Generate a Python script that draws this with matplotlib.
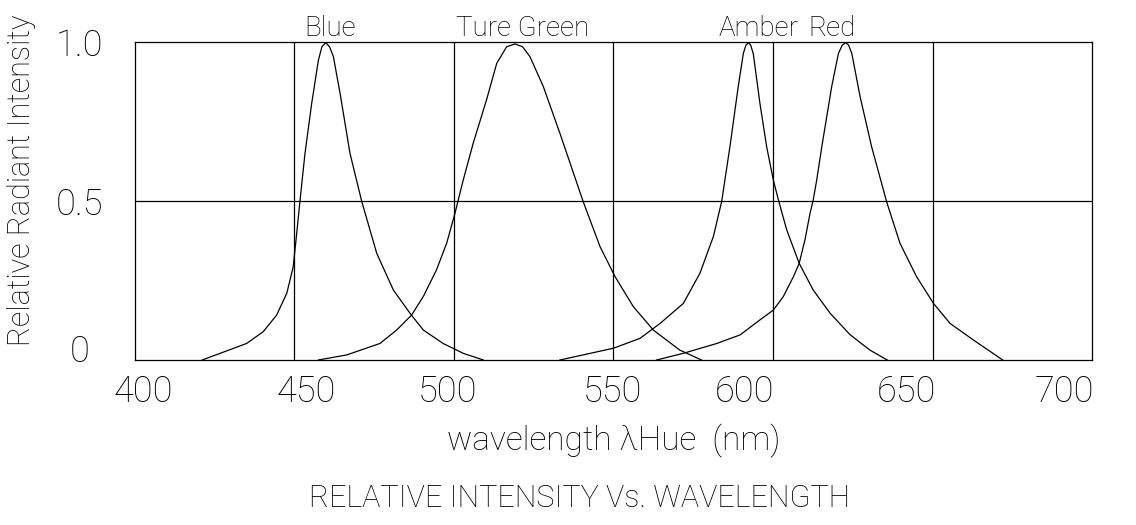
import numpy as np
import matplotlib
matplotlib.use("Agg")
import matplotlib.pyplot as plt
import matplotlib.transforms as mtrans

# spectra (wavelength nm, relative intensity)
blue_x = [421.1, 435.0, 440.2, 444.4, 447.6, 449.6, 450.7, 451.7, 453.3, 455.4, 457.5, 458.6, 459.8,
          461.0, 462.2, 464.3, 467.4, 471.1, 475.8, 481.0, 486.2, 490.4, 496.6, 502.9, 509.2]
blue_y = [0.0, 0.052, 0.089, 0.141, 0.21, 0.293, 0.398, 0.498, 0.65, 0.807, 0.943, 0.985, 0.998,
          0.985, 0.954, 0.838, 0.65, 0.498, 0.335, 0.22, 0.147, 0.094, 0.052, 0.021, 0.0]

green_x = [457.5, 466.4, 476.8, 482.0, 486.7, 490.4, 494.5, 497.7, 500.3, 502.9, 506.0, 510.2,
           513.4, 516.5, 519.1, 521.5, 523.8, 528.0, 533.2, 540.5, 545.8, 550.5, 556.2, 562.5,
           570.8, 577.6]
green_y = [0.0, 0.016, 0.052, 0.094, 0.141, 0.2, 0.283, 0.367, 0.461, 0.566, 0.681, 0.818,
           0.933, 0.985, 0.994, 0.985, 0.954, 0.86, 0.713, 0.498, 0.356, 0.262, 0.168, 0.094,
           0.031, 0.0]

amber_x = [533.2, 550.0, 558.3, 564.6, 571.9, 577.1, 581.3, 583.9, 586.5, 589.1, 590.7, 591.5,
           592.3, 593.0, 593.8, 595.9, 598.0, 600.1, 601.7, 604.3, 608.2, 612.6, 617.9, 624.1,
           627.3, 630.4, 635.8]
amber_y = [0.0, 0.037, 0.068, 0.115, 0.178, 0.273, 0.388, 0.498, 0.671, 0.86, 0.964, 0.99,
           0.998, 0.99, 0.964, 0.807, 0.671, 0.566, 0.503, 0.409, 0.304, 0.22, 0.147, 0.08,
           0.055, 0.031, 0.0]

red_x = [563.5, 571.9, 582.4, 589.7, 595.9, 600.1, 603.2, 606.4, 608.2, 610.0, 611.6, 612.6,
         613.7, 615.3, 618.4, 620.5, 621.7, 622.8, 623.7, 624.7, 627.3, 630.9, 635.6, 639.8,
         645.0, 650.3, 655.5, 662.8, 672.0]
red_y = [0.0, 0.021, 0.052, 0.079, 0.126, 0.157, 0.199, 0.262, 0.304, 0.377, 0.461, 0.503,
         0.566, 0.671, 0.86, 0.964, 0.99, 0.998, 0.99, 0.964, 0.828, 0.671, 0.498, 0.367,
         0.262, 0.178, 0.115, 0.063, 0.0]

names = ["Blue", "Ture Green", "Amber", "Red"]
name_pos = [461.0, 521.5, 595.4, 618.5]
xs = [blue_x, green_x, amber_x, red_x]
ys = [blue_y, green_y, amber_y, red_y]

xticks = [400, 450, 500, 550, 600, 650, 700]
yticks = [0, 0.5, 1.0]
ytick_labels = ["0", "0.5", "1.0"]

plt.rcParams['font.family'] = ['Roboto', 'DejaVu Sans']
fw = 'light'

fig = plt.figure(figsize=(11.36, 5.25), dpi=100)
ax = fig.add_axes([0.1188, 0.3143, 0.8425, 0.6057])

for x, y in zip(xs, ys):
    ax.plot(x, y, color='black', lw=0.9)

for xv in xticks[1:-1]:
    ax.axvline(xv, color='black', lw=0.9)
ax.axhline(0.5, color='black', lw=0.9)

ax.set_xlim(400, 700)
ax.set_ylim(0, 1.0)
for s in ax.spines.values():
    s.set_linewidth(0.9)

ax.set_xticks(xticks)
ax.set_xticklabels([str(v) for v in xticks], fontsize=26, fontweight=fw)
ax.set_yticks(yticks)
ax.set_yticklabels(ytick_labels, fontsize=26, fontweight=fw, ha='center')
ax.tick_params(axis='x', length=0, pad=10)
ax.tick_params(axis='y', length=0, pad=40)

# the labels in the original drawing sit a little off their grid lines
x_shift = [8, 12, -6, -1, -29, -26, -28]
for lab, dx in zip(ax.get_xticklabels(), x_shift):
    lab.set_transform(lab.get_transform() + mtrans.ScaledTranslation(dx / 100, 0, fig.dpi_scale_trans))
lab0 = ax.get_yticklabels()[0]
lab0.set_transform(lab0.get_transform() + mtrans.ScaledTranslation(0, 12 / 100, fig.dpi_scale_trans))

for name, xp in zip(names, name_pos):
    ax.annotate(name, (xp, 1.0), xytext=(0, 4.5), textcoords='offset points',
                ha='center', va='baseline', fontsize=20, fontweight=fw)

ax.set_xlabel("wavelength \u03bbHue  (nm)", fontsize=24, fontweight=fw, labelpad=10)
ax.set_ylabel("Relative Radiant Intensity", fontsize=22, fontweight=fw)
ax.yaxis.set_label_coords(-0.103, 0.566)

fig.text(0.51, 0.05, "RELATIVE INTENSITY Vs. WAVELENGTH", ha='center', va='center',
         fontsize=22, fontweight=fw)

fig.savefig("out.png", dpi=100)
